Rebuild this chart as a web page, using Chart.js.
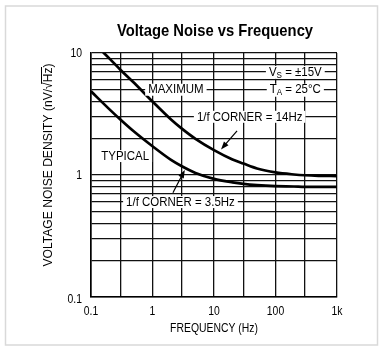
<!DOCTYPE html>
<html>
<head>
<meta charset="utf-8">
<script src="https://cdn.jsdelivr.net/npm/chart.js@4"></script>
<style>
  html, body { margin: 0; padding: 0; background: #fff; }
  #wrap { width: 381px; height: 352px; position: relative; }
</style>
</head>
<body>
<div id="wrap"><canvas id="noise" width="381" height="352"></canvas></div>
<script>
// values
var freqTyp = [0.1, 0.2, 0.3, 0.5, 1, 2, 3, 5, 10, 20, 30, 50, 100, 200, 300, 500, 1000];
var typical = [4.85, 3.45, 2.85, 2.27, 1.72, 1.33, 1.18, 1.04, 0.93, 0.87, 0.845, 0.825, 0.81, 0.805, 0.80, 0.80, 0.80];

var freqMax = [0.15, 0.2, 0.3, 0.5, 1, 2, 3, 5, 10, 20, 30, 50, 100, 200, 300, 500, 1000];
var maximum = [10.4, 9.0, 7.3, 5.7, 4.0, 2.85, 2.4, 1.98, 1.6, 1.34, 1.24, 1.13, 1.05, 1.01, 0.995, 0.985, 0.98];

var xGrid = [0.1, 0.3, 1, 3, 10, 30, 100, 300, 1000];
var xTickLabels = [[0.1, "0.1"], [1, "1"], [10, "10"], [100, "100"], [1000, "1k"]];
var yGrid = [0.1, 0.2, 0.3, 0.4, 0.5, 0.6, 0.7, 0.8, 0.9, 1, 2, 3, 4, 5, 6, 7, 8, 9, 10];
var yTickLabels = [[0.1, "0.1"], [1, "1"], [10, "10"]];

var FONT = "'Liberation Sans', Arial, sans-serif";

// notes placed in data coordinates
var notes = [
    {text: "MAXIMUM", f: 2.4, v: 5},
    {text: "1/f CORNER = 14Hz", f: 38, v: 3},
    {text: "TYPICAL", f: 0.36, v: 1.43},
    {text: "1/f CORNER = 3.5Hz", f: 2.85, v: 0.6}
];
var arrows = [
    {from: [23.7, 2.3], to: [13, 1.62]},
    {from: [2.15, 0.715], to: [3.35, 1.1]}
];

function pts(fs, vs) {
    return fs.map(function(f, i) { return {x: f, y: vs[i]}; });
}

// condensed text: squeeze horizontally
function say(c, text, x, y, font, sx, align) {
    c.save();
    c.font = font;
    var w = c.measureText(text).width * sx;
    var x0 = align === "left" ? x : align === "right" ? x - w : x - w / 2;
    c.translate(x0, y);
    c.scale(sx, 1);
    c.textAlign = "left";
    c.textBaseline = "middle";
    c.fillText(text, 0, 0);
    c.restore();
    return w;
}
function wid(c, text, font, sx) {
    c.save();
    c.font = font;
    var w = c.measureText(text).width * sx;
    c.restore();
    return w;
}

var extras = {
    id: "extras",
    beforeDraw: function(chart) {
        var c = chart.ctx;
        c.save();
        c.fillStyle = "#fff";
        c.fillRect(0, 0, chart.width, chart.height);
        c.strokeStyle = "#d9d9d9";
        c.lineWidth = 1.5;
        c.strokeRect(5.5, 6, 372, 339);
        c.restore();
    },
    afterDraw: function(chart) {
        var c = chart.ctx, xs = chart.scales.x, ys = chart.scales.y;
        var a = chart.chartArea;
        c.save();
        c.fillStyle = "#000";

        say(c, "Voltage Noise vs Frequency", 215, 31, "bold 17px " + FONT, 0.87, "center");
        say(c, "FREQUENCY (Hz)", 214, 328, "13px " + FONT, 0.8, "center");

        // tick labels
        var tf = "13px " + FONT;
        xTickLabels.forEach(function(t) {
            say(c, t[1], xs.getPixelForValue(t[0]), a.bottom + 14, tf, 0.8, "center");
        });
        yTickLabels.forEach(function(t) {
            var y = ys.getPixelForValue(t[0]);
            if (t[0] === 0.1) y += 2;
            say(c, t[1], a.left - 9, y, tf, 0.8, "right");
        });

        // y title with overline on Hz
        c.save();
        c.translate(48, 165);
        c.rotate(-Math.PI / 2);
        var yf = "13px " + FONT, ysx = 0.93;
        var yt = "VOLTAGE NOISE DENSITY (nV/√Hz)";
        var w = wid(c, yt, yf, ysx);
        say(c, yt, -w / 2, 0, yf, ysx, "left");
        var pre = wid(c, "VOLTAGE NOISE DENSITY (nV/√", yf, ysx);
        var hz = wid(c, "Hz", yf, ysx);
        c.lineWidth = 1;
        c.beginPath();
        c.moveTo(-w / 2 + pre - 1.5, -6.5);
        c.lineTo(-w / 2 + pre + hz + 0.5, -6.5);
        c.stroke();
        c.restore();

        // notes with white background
        var nf = "13.5px " + FONT, nsx = 0.85;
        notes.forEach(function(n) {
            var x = xs.getPixelForValue(n.f), y = ys.getPixelForValue(n.v);
            var tw = wid(c, n.text, nf, nsx);
            c.fillStyle = "#fff";
            c.fillRect(x - tw / 2 - 3, y - 6, tw + 6, 12);
            c.fillStyle = "#000";
            say(c, n.text, x, y, nf, nsx, "center");
        });

        // conditions, with subscripts
        function cond(main, sub, rest, f, v) {
            var x = xs.getPixelForValue(f), y = ys.getPixelForValue(v);
            var sf = "9.5px " + FONT;
            var w1 = wid(c, main, nf, nsx), w2 = wid(c, sub, sf, nsx), w3 = wid(c, rest, nf, nsx);
            var tw = w1 + w2 + w3;
            var x0 = x - tw / 2;
            c.fillStyle = "#fff";
            c.fillRect(x0 - 3, y - 6, tw + 6, 13);
            c.fillStyle = "#000";
            say(c, main, x0, y, nf, nsx, "left");
            say(c, sub, x0 + w1, y + 3, sf, nsx, "left");
            say(c, rest, x0 + w1 + w2, y, nf, nsx, "left");
        }
        cond("V", "S", " = ±15V", 210, 7);
        cond("T", "A", " = 25°C", 210, 5);

        // arrows
        c.strokeStyle = "#000";
        c.fillStyle = "#000";
        c.lineWidth = 1.2;
        arrows.forEach(function(ar) {
            var x1 = xs.getPixelForValue(ar.from[0]), y1 = ys.getPixelForValue(ar.from[1]);
            var x2 = xs.getPixelForValue(ar.to[0]), y2 = ys.getPixelForValue(ar.to[1]);
            var ang = Math.atan2(y2 - y1, x2 - x1);
            c.beginPath();
            c.moveTo(x1, y1);
            c.lineTo(x2 - 6 * Math.cos(ang), y2 - 6 * Math.sin(ang));
            c.stroke();
            c.beginPath();
            c.moveTo(x2, y2);
            c.lineTo(x2 - 8 * Math.cos(ang) + 3 * Math.sin(ang), y2 - 8 * Math.sin(ang) - 3 * Math.cos(ang));
            c.lineTo(x2 - 8 * Math.cos(ang) - 3 * Math.sin(ang), y2 - 8 * Math.sin(ang) + 3 * Math.cos(ang));
            c.closePath();
            c.fill();
        });
        c.restore();
    }
};

new Chart(document.getElementById("noise"), {
    type: "line",
    data: {
        datasets: [{
            label: "MAXIMUM",
            data: pts(freqMax, maximum),
            borderColor: "#000",
            borderWidth: 2.7,
            pointRadius: 0,
            cubicInterpolationMode: "monotone",
            clip: 0
        }, {
            label: "TYPICAL",
            data: pts(freqTyp, typical),
            borderColor: "#000",
            borderWidth: 2.7,
            pointRadius: 0,
            cubicInterpolationMode: "monotone",
            clip: 0
        }]
    },
    options: {
        responsive: false,
        animation: false,
        devicePixelRatio: 1,
        layout: { padding: { left: 0, top: 53, right: 44, bottom: 0 } },
        plugins: { legend: { display: false }, tooltip: { enabled: false }, title: { display: false } },
        scales: {
            x: {
                type: "logarithmic",
                min: 0.1, max: 1000,
                afterFit: function(s) { s.height = 55; },
                afterBuildTicks: function(s) { s.ticks = xGrid.map(function(v) { return {value: v}; }); },
                grid: { color: "#111", lineWidth: 1.3, drawTicks: false },
                border: { color: "#000", width: 1.6 },
                ticks: { display: false, autoSkip: false }
            },
            y: {
                type: "logarithmic",
                min: 0.1, max: 10,
                afterFit: function(s) { s.width = 91; },
                afterBuildTicks: function(s) { s.ticks = yGrid.map(function(v) { return {value: v}; }); },
                grid: { color: "#111", lineWidth: 1.3, drawTicks: false },
                border: { color: "#000", width: 1.6 },
                ticks: { display: false, autoSkip: false }
            }
        }
    },
    plugins: [extras]
});
</script>
</body>
</html>
